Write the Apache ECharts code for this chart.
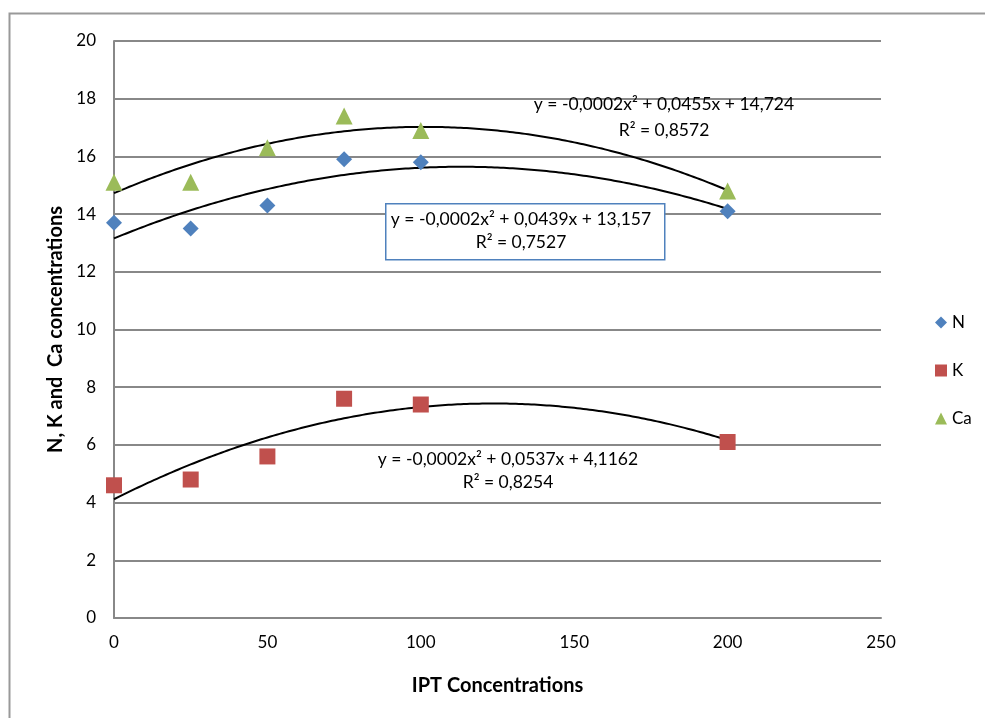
<!DOCTYPE html>
<html>
<head>
<meta charset="utf-8">
<script src="https://cdn.jsdelivr.net/npm/echarts@6/dist/echarts.min.js"></script>
<style>html,body{margin:0;padding:0;background:#fff;}#c{width:985px;height:718px;}</style>
</head>
<body>
<div id="c"></div>
<script>
var xValues = [0, 25, 50, 75, 100, 200];
var nValues = [13.7, 13.5, 14.3, 15.9, 15.8, 14.1];
var kValues = [4.6, 4.8, 5.6, 7.6, 7.4, 6.1];
var caValues = [15.1, 15.1, 16.3, 17.4, 16.9, 14.8];
var xTicks = [0, 50, 100, 150, 200, 250];
var yTicks = [0, 2, 4, 6, 8, 10, 12, 14, 16, 18, 20];
var eqN = ['y = -0,0002x\u00b2 + 0,0439x + 13,157', 'R\u00b2 = 0,7527'];
var eqK = ['y = -0,0002x\u00b2 + 0,0537x + 4,1162', 'R\u00b2 = 0,8254'];
var eqCa = ['y = -0,0002x\u00b2 + 0,0455x + 14,724', 'R\u00b2 = 0,8572'];

// least-squares quadratic fit (like the spreadsheet trendline)
function polyFit2(xs, ys) {
  var n = xs.length, s = [0,0,0,0,0], t = [0,0,0];
  for (var i = 0; i < n; i++) {
    var x = xs[i], y = ys[i];
    for (var p = 0; p < 5; p++) s[p] += Math.pow(x, p);
    for (var q = 0; q < 3; q++) t[q] += y * Math.pow(x, q);
  }
  var A = [[s[0], s[1], s[2], t[0]], [s[1], s[2], s[3], t[1]], [s[2], s[3], s[4], t[2]]];
  for (var c = 0; c < 3; c++) {
    for (var r = c + 1; r < 3; r++) {
      var f = A[r][c] / A[c][c];
      for (var k = c; k < 4; k++) A[r][k] -= f * A[c][k];
    }
  }
  var b = [0,0,0];
  for (var r2 = 2; r2 >= 0; r2--) {
    var sum = A[r2][3];
    for (var k2 = r2 + 1; k2 < 3; k2++) sum -= A[r2][k2] * b[k2];
    b[r2] = sum / A[r2][r2];
  }
  return b;
}
function trend(ys) {
  var b = polyFit2(xValues, ys), out = [];
  var x0 = xValues[0], x1 = xValues[xValues.length - 1];
  for (var x = x0; x <= x1; x += 2) out.push([x, b[0] + b[1] * x + b[2] * x * x]);
  return out;
}
function pts(ys) { return xValues.map(function (x, i) { return [x, ys[i]]; }); }

var FONT = 'Lato';
var EQ = 17.5;
var chart = echarts.init(document.getElementById('c'));
var lineStyle = { color: '#000', width: 2 };
function eqText(x, y, t) {
  return { type: 'text', x: x, y: y, style: { text: t, fontFamily: FONT, fontSize: EQ, fill: '#000', align: 'center', verticalAlign: 'middle' }, z: 6 };
}
chart.setOption({
  animation: false,
  backgroundColor: '#fff',
  textStyle: { fontFamily: FONT },
  grid: { left: 114, right: 104, top: 41, bottom: 100, containLabel: false },
  xAxis: {
    type: 'value', min: 0, max: 250, interval: 50,
    name: 'IPT Concentrations', nameLocation: 'middle', nameGap: 58,
    nameTextStyle: { fontFamily: FONT, fontSize: 20, fontWeight: 'bold', color: '#000' },
    axisLine: { show: true, onZero: false, lineStyle: { color: '#888', width: 2 } },
    axisTick: { show: false },
    axisLabel: { color: '#000', fontSize: 17, margin: 16 },
    splitLine: { show: false }
  },
  yAxis: {
    type: 'value', min: 0, max: 20, interval: 2,
    name: 'N, K and  Ca concentrations', nameLocation: 'middle', nameGap: 48,
    nameTextStyle: { fontFamily: FONT, fontSize: 20, fontWeight: 'bold', color: '#000' },
    axisLine: { show: true, lineStyle: { color: '#888', width: 2 } },
    axisTick: { show: false },
    axisLabel: { color: '#000', fontSize: 17, margin: 18 },
    splitLine: { show: true, lineStyle: { color: '#888', width: 2 } }
  },
  legend: {
    orient: 'vertical', left: 930, top: 309, itemGap: 31,
    itemWidth: 12, itemHeight: 12,
    textStyle: { fontFamily: FONT, fontSize: 17, color: '#000' },
    data: [
      { name: 'N', icon: 'diamond' },
      { name: 'K', icon: 'rect' },
      { name: 'Ca', icon: 'triangle' }
    ]
  },
  series: [
    { name: 'N-trend', type: 'line', data: trend(nValues), showSymbol: false, smooth: true, lineStyle: lineStyle, silent: true, z: 1 },
    { name: 'K-trend', type: 'line', data: trend(kValues), showSymbol: false, smooth: true, lineStyle: lineStyle, silent: true, z: 1 },
    { name: 'Ca-trend', type: 'line', data: trend(caValues), showSymbol: false, smooth: true, lineStyle: lineStyle, silent: true, z: 1 },
    { name: 'N', type: 'scatter', data: pts(nValues), symbol: 'diamond', symbolSize: 16, itemStyle: { color: '#4F81BD', opacity: 1 }, z: 3 },
    { name: 'K', type: 'scatter', data: pts(kValues), symbol: 'rect', symbolSize: 16, itemStyle: { color: '#C0504D', opacity: 1 }, z: 3 },
    { name: 'Ca', type: 'scatter', data: pts(caValues), symbol: 'triangle', symbolSize: 17, itemStyle: { color: '#9BBB59', opacity: 1 }, z: 3 }
  ],
  graphic: [
    { type: 'rect', left: 7, top: 11, shape: { width: 1000, height: 800 }, style: { fill: 'none', stroke: '#999', lineWidth: 2 }, silent: true, z: -10 },
    { type: 'rect', left: 385, top: 203, shape: { width: 279, height: 56 }, style: { fill: '#fff', stroke: '#4F81BD', lineWidth: 1.5 }, z: 5 },
    eqText(521, 219, eqN[0]), eqText(521, 242, eqN[1]),
    eqText(664, 104, eqCa[0]), eqText(664, 130, eqCa[1]),
    eqText(508, 459, eqK[0]), eqText(508, 482, eqK[1])
  ]
});
</script>
</body>
</html>
